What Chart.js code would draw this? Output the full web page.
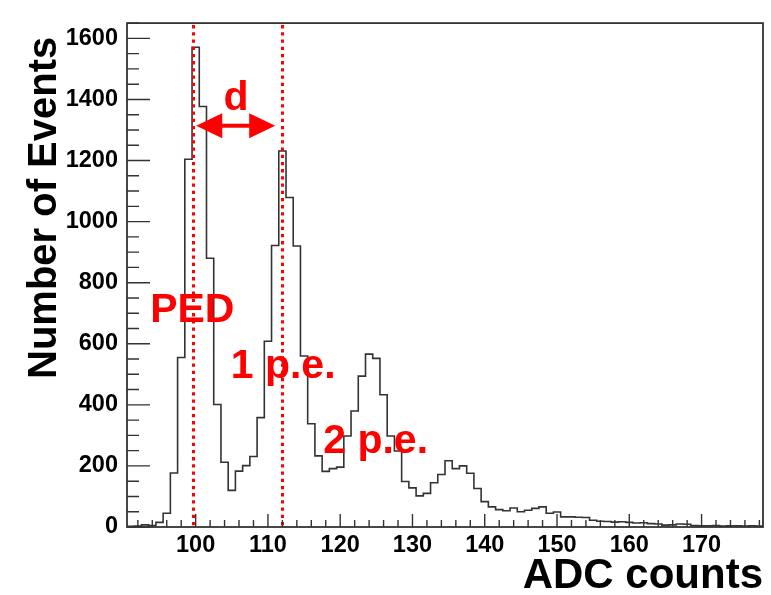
<!DOCTYPE html>
<html><head><meta charset="utf-8">
<script src="https://cdn.jsdelivr.net/npm/chart.js@4.4.1/dist/chart.umd.min.js"></script>
<style>html,body{margin:0;padding:0;background:#fff}#wrap{width:771px;height:595px}</style>
</head><body><div id="wrap"><canvas id="c" width="771" height="595"></canvas></div>
<script>
// ---- data (1 ADC-count bins) ----
const adcBins = [91,92,93,94,95,96,97,98,99,100,101,102,103,104,105,106,107,108,109,110,
  111,112,113,114,115,116,117,118,119,120,121,122,123,124,125,126,127,128,129,130,
  131,132,133,134,135,136,137,138,139,140,141,142,143,144,145,146,147,148,149,150,
  151,152,153,154,155,156,157,158,159,160,161,162,163,164,165,166,167,168,169,170,
  171,172,173,174,175,176,177,178];
const eventCounts = [2,3,7,5,15,45,177,555,1204,1571,
  1377,880,401,212,120,183,201,231,358,608,
  922,1231,1079,920,560,338,233,182,191,196,
  298,380,494,566,552,433,298,249,149,128,
  102,110,145,172,217,191,200,176,126,83,
  66,57,53,62,50,55,61,66,45,49,
  33,33,32,31,22,19,18,16,17,15,
  13,14,11,10,6,7,10,9,5,4,
  4,5,3,4,4,3,4,3];
const binWidth = 1;
const xRange = [90.5, 178.5];
const yRange = [0, 1650];
const xTickLabels = [100,110,120,130,140,150,160,170];
const yTickLabels = [0,200,400,600,800,1000,1200,1400,1600];
const xMinorStep = 2;
const yMinorStep = 50;
const peakMarkers = [99.7, 111.9];
const labelTexts = ['PED', '1 p.e.', '2 p.e.', 'd'];
const labelX = [93.7, 104.85, 117.65, 105.6];
const labelY = [672, 489, 241, 1364];
const arrowFrom = 100.08, arrowTo = 111.0, arrowY = 1314;
const xTitle = 'ADC counts';
const yTitle = 'Number of Events';

const FONT = '"Liberation Sans", Arial, Helvetica, sans-serif';
const LINE = '#333333';

const points = adcBins.map((c, i) => ({x: c - binWidth / 2, y: eventCounts[i]}));
points.push({x: adcBins[adcBins.length - 1] + binWidth / 2, y: eventCounts[eventCounts.length - 1]});

const overlay = {
  id: 'overlay',
  afterDatasetsDraw(chart) {
    const {ctx, chartArea: a, scales: {x, y}} = chart;
    ctx.save();
    // red dotted marker lines
    ctx.strokeStyle = '#ff0000';
    ctx.lineWidth = 3;
    ctx.setLineDash([3.3, 3.9]);
    peakMarkers.forEach(v => {
      const px = Math.round(x.getPixelForValue(v)) + 0.5;
      ctx.beginPath(); ctx.moveTo(px, a.top + 2); ctx.lineTo(px, a.bottom); ctx.stroke();
    });
    ctx.setLineDash([]);
    // double arrow
    const x1 = x.getPixelForValue(arrowFrom), x2 = x.getPixelForValue(arrowTo), ay = y.getPixelForValue(arrowY);
    const hl = 26, hw = 12.5;
    ctx.fillStyle = '#ff0000';
    ctx.lineWidth = 4;
    ctx.beginPath(); ctx.moveTo(x1 + hl - 2, ay); ctx.lineTo(x2 - hl + 2, ay); ctx.stroke();
    ctx.beginPath(); ctx.moveTo(x1, ay); ctx.lineTo(x1 + hl, ay - hw); ctx.lineTo(x1 + hl, ay + hw); ctx.closePath(); ctx.fill();
    ctx.beginPath(); ctx.moveTo(x2, ay); ctx.lineTo(x2 - hl, ay - hw); ctx.lineTo(x2 - hl, ay + hw); ctx.closePath(); ctx.fill();
    // labels
    ctx.font = 'bold 41px ' + FONT;
    ctx.textBaseline = 'alphabetic';
    labelTexts.forEach((t, i) => {
      ctx.textAlign = t === 'd' ? 'center' : 'left';
      ctx.fillText(t, x.getPixelForValue(labelX[i]), y.getPixelForValue(labelY[i]));
    });
    ctx.restore();
  },
  afterDraw(chart) {
    const {ctx, chartArea: a, scales: {x, y}} = chart;
    ctx.save();
    ctx.strokeStyle = LINE;
    ctx.lineWidth = 1.8;
    ctx.strokeRect(a.left, a.top, a.right - a.left, a.bottom - a.top);
    ctx.lineWidth = 1.4;
    ctx.beginPath();
    for (let v = Math.ceil(xRange[0] / xMinorStep) * xMinorStep; v <= xRange[1]; v += xMinorStep) {
      const px = x.getPixelForValue(v);
      const len = (v % 10 === 0) ? 13 : 7;
      ctx.moveTo(px, a.bottom); ctx.lineTo(px, a.bottom - len);
    }
    for (let v = yRange[0]; v <= yRange[1]; v += yMinorStep) {
      const py = y.getPixelForValue(v);
      const len = (v % 200 === 0) ? 23 : 12;
      ctx.moveTo(a.left, py); ctx.lineTo(a.left + len, py);
    }
    ctx.stroke();
    // axis titles
    ctx.fillStyle = '#000';
    ctx.font = 'bold 42px ' + FONT;
    ctx.textAlign = 'right';
    ctx.textBaseline = 'alphabetic';
    ctx.fillText(xTitle, a.right, 588);
    ctx.save();
    ctx.translate(56, 379);
    ctx.rotate(-Math.PI / 2);
    ctx.font = 'bold 40px ' + FONT;
    ctx.textAlign = 'left';
    ctx.fillText(yTitle, 0, 0);
    ctx.restore();
    ctx.restore();
  }
};

new Chart(document.getElementById('c'), {
  type: 'line',
  data: {datasets: [{
    label: yTitle,
    data: points,
    stepped: 'before',
    borderColor: LINE,
    borderWidth: 1.6,
    pointRadius: 0,
    fill: false,
    tension: 0
  }]},
  options: {
    responsive: false,
    animation: false,
    events: [],
    layout: {padding: {left: 0, right: 8, top: 11, bottom: 0}},
    plugins: {legend: {display: false}, tooltip: {enabled: false}, title: {display: false}},
    scales: {
      x: {
        type: 'linear', min: xRange[0], max: xRange[1],
        grid: {display: false, drawTicks: false}, border: {display: false},
        afterBuildTicks: s => { s.ticks = xTickLabels.map(v => ({value: v})); },
        afterFit: s => { s.height = 68; },
        ticks: {color: '#000', padding: 4, maxRotation: 0, autoSkip: false,
          callback: v => String(v),
          font: {family: FONT, size: 23.5, weight: 'bold'}}
      },
      y: {
        type: 'linear', min: yRange[0], max: yRange[1],
        grid: {display: false, drawTicks: false}, border: {display: false},
        afterBuildTicks: s => { s.ticks = yTickLabels.map(v => ({value: v})); },
        afterFit: s => { s.width = 127; },
        ticks: {color: '#000', padding: 9, autoSkip: false,
          callback: v => String(v),
          font: {family: FONT, size: 23.5, weight: 'bold'}}
      }
    }
  },
  plugins: [overlay]
});
</script></body></html>
